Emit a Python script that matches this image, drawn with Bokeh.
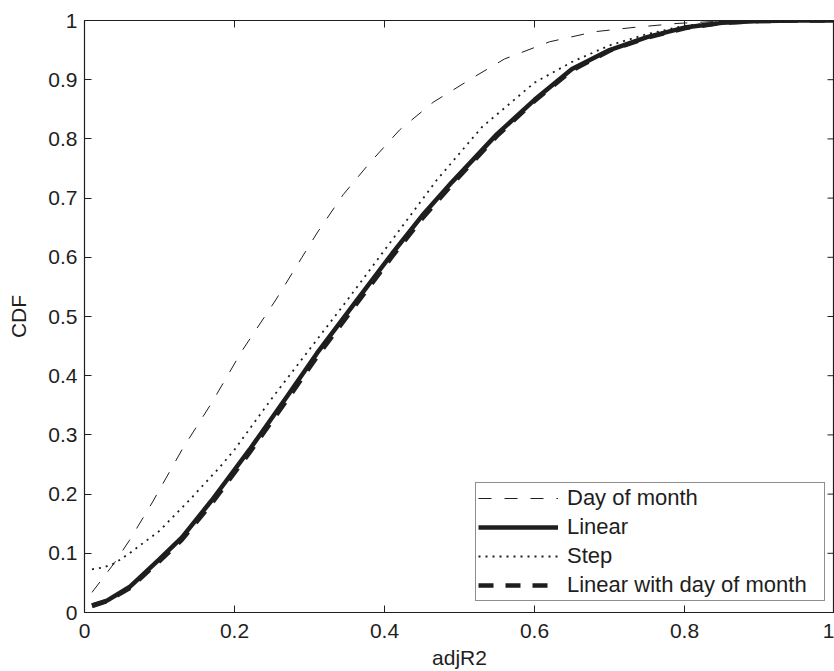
import math
from bokeh.plotting import figure
from bokeh.models import FixedTicker, Range1d, Legend, LegendItem
from bokeh.embed import file_html
from bokeh.resources import INLINE

# ---- data ----
x_ticks = [0, 0.2, 0.4, 0.6, 0.8, 1]
x_tick_labels = ["0", "0.2", "0.4", "0.6", "0.8", "1"]
y_ticks = [0, 0.1, 0.2, 0.3, 0.4, 0.5, 0.6, 0.7, 0.8, 0.9, 1]
y_tick_labels = ["0", "0.1", "0.2", "0.3", "0.4", "0.5", "0.6", "0.7", "0.8", "0.9", "1"]

series_names = ["Day of month", "Linear", "Step", "Linear with day of month"]

dom_x = [0.01, 0.04, 0.06, 0.09, 0.13, 0.17, 0.21, 0.255, 0.29, 0.31, 0.345, 0.38,
         0.42, 0.465, 0.52, 0.56, 0.62, 0.68, 0.73, 0.79, 0.85, 0.9, 1.0]
dom_y = [0.034, 0.084, 0.122, 0.185, 0.275, 0.355, 0.442, 0.528, 0.6, 0.641, 0.706, 0.759,
         0.815, 0.862, 0.905, 0.935, 0.964, 0.981, 0.988, 0.995, 0.999, 1.0, 1.0]

lin_x = [0.01, 0.03, 0.06, 0.1, 0.13, 0.17, 0.22, 0.27, 0.31, 0.36, 0.41, 0.45,
         0.49, 0.55, 0.6, 0.65, 0.7, 0.75, 0.8, 0.85, 0.9, 0.95, 1.0]
lin_y = [0.012, 0.02, 0.043, 0.09, 0.127, 0.19, 0.275, 0.365, 0.438, 0.522, 0.606, 0.67,
         0.727, 0.808, 0.866, 0.918, 0.95, 0.972, 0.988, 0.996, 0.999, 1.0, 1.0]

step_x = [0.01, 0.025, 0.04, 0.06, 0.1, 0.14, 0.18, 0.2, 0.25, 0.31, 0.35, 0.4,
          0.47, 0.53, 0.6, 0.65, 0.7, 0.75, 0.8, 0.85, 0.9, 1.0]
step_y = [0.073, 0.076, 0.083, 0.1, 0.138, 0.19, 0.245, 0.275, 0.362, 0.461, 0.527, 0.612,
          0.731, 0.82, 0.895, 0.93, 0.958, 0.977, 0.991, 0.997, 0.999, 1.0]

lindom_x = [0.01, 0.03, 0.06, 0.1, 0.13, 0.17, 0.22, 0.27, 0.31, 0.36, 0.41, 0.45,
            0.49, 0.55, 0.6, 0.65, 0.7, 0.75, 0.8, 0.85, 0.9, 0.95, 1.0]
lindom_y = [0.011, 0.019, 0.041, 0.087, 0.123, 0.185, 0.27, 0.359, 0.432, 0.517, 0.601, 0.665,
            0.723, 0.805, 0.864, 0.916, 0.949, 0.971, 0.987, 0.996, 0.999, 1.0, 1.0]

# ---- figure ----
FONT = "Liberation Sans"
INK = "#1e1e1e"

p = figure(width=834, height=671, x_range=Range1d(0, 1), y_range=Range1d(0, 1),
           output_backend="svg", toolbar_location=None,
           min_border_left=84, min_border_right=0, min_border_top=20, min_border_bottom=0,
           x_axis_label="adjR2", y_axis_label="CDF")
p.background_fill_color = "white"
p.border_fill_color = "white"
p.outline_line_color = INK
p.outline_line_width = 1.2
p.xgrid.visible = False
p.ygrid.visible = False

xover = {t: l for t, l in zip(x_ticks, x_tick_labels)}
yover = {t: l for t, l in zip(y_ticks, y_tick_labels)}

for ax, ticks, over in ((p.xaxis[0], x_ticks, xover), (p.yaxis[0], y_ticks, yover)):
    ax.ticker = FixedTicker(ticks=ticks)
    ax.major_label_overrides = over
    ax.major_tick_in = 7
    ax.major_tick_out = 0
    ax.minor_tick_line_color = None
    ax.axis_line_color = INK
    ax.major_tick_line_color = INK
    ax.major_label_text_font = FONT
    ax.major_label_text_font_size = "21px"
    ax.major_label_text_color = INK
    ax.axis_label_text_font = FONT
    ax.axis_label_text_font_size = "21px"
    ax.axis_label_text_font_style = "normal"
    ax.axis_label_text_color = INK

p.xaxis[0].major_label_standoff = 11
p.xaxis[0].axis_label_standoff = 5
p.yaxis[0].major_label_standoff = 7
p.yaxis[0].axis_label_standoff = 15

# mirrored inward ticks on the top and right edges (clipped to the frame)
p.scatter(x=x_ticks, y=[1] * len(x_ticks), marker="dash", size=14, angle=math.pi / 2,
          line_color=INK, line_width=1)
p.scatter(x=[1] * len(y_ticks), y=y_ticks, marker="dash", size=14,
          line_color=INK, line_width=1)

# ---- lines ----
r_dom = p.line(dom_x, dom_y, line_color=INK, line_width=1, line_dash="13 13")
r_lin = p.line(lin_x, lin_y, line_color=INK, line_width=4.5)
r_step = p.line(step_x, step_y, line_color=INK, line_width=1.8, line_dash="2 5")
r_ld = p.line(lindom_x, lindom_y, line_color=INK, line_width=4.5, line_dash="15 12")

legend = Legend(items=[LegendItem(label=series_names[0], renderers=[r_dom]),
                       LegendItem(label=series_names[1], renderers=[r_lin]),
                       LegendItem(label=series_names[2], renderers=[r_step]),
                       LegendItem(label=series_names[3], renderers=[r_ld])],
                location=(391, 11))
legend.label_text_font = FONT
legend.label_text_font_size = "22px"
legend.label_text_color = INK
legend.glyph_width = 80
legend.glyph_height = 26
legend.label_height = 26
legend.label_width = 255
legend.label_standoff = 9
legend.padding = 2
legend.spacing = 3
legend.margin = 0
legend.border_line_color = INK
legend.border_line_width = 1.6
legend.background_fill_color = "white"
legend.background_fill_alpha = 1.0
p.add_layout(legend)

open("out.html", "w").write(file_html(p, INLINE))
